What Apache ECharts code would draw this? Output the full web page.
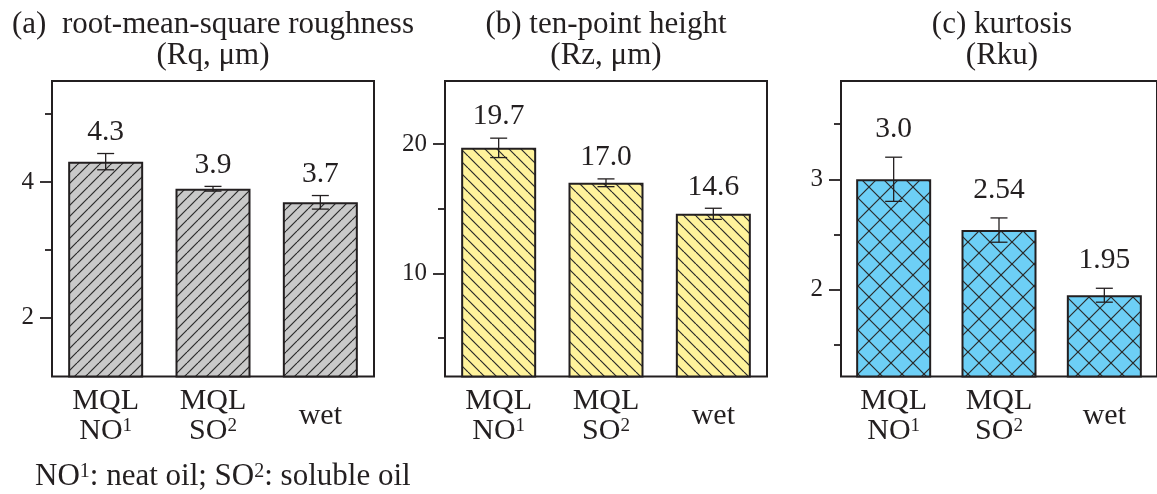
<!DOCTYPE html>
<html>
<head>
<meta charset="utf-8">
<script src="https://cdn.jsdelivr.net/npm/echarts@6/dist/echarts.min.js"></script>
<style>
html,body{margin:0;padding:0;background:#fff;}
#chart{width:1157px;height:494px;}
</style>
</head>
<body>
<div id="chart"></div>
<script>
// ---- data ----
const categories = ['MQL\nNO¹', 'MQL\nSO²', 'wet'];

const rqMean = [4.3, 3.9, 3.7];
const rqErr = [0.12, 0.035, 0.1];
const rqLabels = ['4.3', '3.9', '3.7'];
const rqTicks = [2, 4];
const rqMinorTicks = [3, 5];

const rzMean = [19.7, 17.0, 14.6];
const rzErr = [0.75, 0.3, 0.43];
const rzLabels = ['19.7', '17.0', '14.6'];
const rzTicks = [10, 20];
const rzMinorTicks = [5, 15];

const rkuMean = [3.0, 2.54, 1.95];
const rkuErr = [0.2, 0.11, 0.063];
const rkuLabels = ['3.0', '2.54', '1.95'];
const rkuTicks = [2, 3];
const rkuMinorTicks = [1.5, 2.5, 3.5];

const titleLines = [
  ['(a)  root-mean-square roughness', '(Rq, μm)'],
  ['(b) ten-point height', '(Rz, μm)'],
  ['(c) kurtosis', '(Rku)']
];
const footnote = 'NO¹: neat oil; SO²: soluble oil';

// ---- style ----
const INK = '#231f20';
const FONT = '"Liberation Serif", "Times New Roman", serif';

function toRich(s) {
  return s.replace(/¹/g, '{sup|1}').replace(/²/g, '{sup|2}');
}

function makePattern(bg, kind, s) {
  const c = document.createElement('canvas');
  c.width = s; c.height = s;
  const g = c.getContext('2d');
  g.fillStyle = bg; g.fillRect(0, 0, s, s);
  g.strokeStyle = '#2a2a2a'; g.lineWidth = 1.2;
  for (const k of [-s, 0, s]) {
    if (kind === 'fwd' || kind === 'cross') {
      g.beginPath(); g.moveTo(k, s); g.lineTo(k + s, 0); g.stroke();
    }
    if (kind === 'back' || kind === 'cross') {
      g.beginPath(); g.moveTo(k, 0); g.lineTo(k + s, s); g.stroke();
    }
  }
  return { image: c, repeat: 'repeat' };
}

const panels = [
  { mean: rqMean, err: rqErr, labels: rqLabels, ticks: rqTicks, minor: rqMinorTicks,
    min: 1.13, max: 5.49, left: 52, fill: makePattern('#c9c9c9', 'fwd', 11), gap: 21.5 },
  { mean: rzMean, err: rzErr, labels: rzLabels, ticks: rzTicks, minor: rzMinorTicks,
    min: 2.02, max: 24.87, left: 445, fill: makePattern('#fff39c', 'back', 12), gap: 21.5 },
  { mean: rkuMean, err: rkuErr, labels: rkuLabels, ticks: rkuTicks, minor: rkuMinorTicks,
    min: 1.214, max: 3.89, left: 841, fill: makePattern('#6dcff6', 'cross', 22), gap: 27.8 }
];

const PLOT_W = 322, TOP = 81, BOTTOM_Y = 376.5;
const SUP = { fontSize: 19, lineHeight: 19, verticalAlign: 'top', fontFamily: FONT, color: INK };

const grid = [], xAxis = [], yAxis = [], series = [], graphic = [];

panels.forEach((p, i) => {
  grid.push({ left: p.left, top: TOP, width: PLOT_W, height: BOTTOM_Y - TOP,
    show: true, borderColor: INK, borderWidth: 2, backgroundColor: 'transparent' });
  xAxis.push({ type: 'category', gridIndex: i, data: categories,
    axisLine: { show: false }, axisTick: { show: false }, splitLine: { show: false },
    axisLabel: { color: INK, fontFamily: FONT, fontSize: 30, lineHeight: 30,
      margin: 40, verticalAlign: 'middle', interval: 0,
      formatter: v => toRich(v), rich: { sup: SUP } } });
  yAxis.push({ type: 'value', gridIndex: i, position: 'left', min: p.min, max: p.max,
    axisLine: { show: false }, splitLine: { show: false },
    axisTick: { show: true, length: 12, customValues: p.ticks, lineStyle: { color: INK, width: 1.8 } },
    axisLabel: { show: true, customValues: p.ticks, color: INK, fontFamily: FONT, fontSize: 25, margin: 18 } });
  yAxis.push({ type: 'value', gridIndex: i, position: 'left', offset: 0, min: p.min, max: p.max,
    axisLine: { show: false }, splitLine: { show: false },
    axisTick: { show: true, length: 7, customValues: p.minor, lineStyle: { color: INK, width: 1.8 } },
    axisLabel: { show: false } });

  series.push({ type: 'bar', xAxisIndex: i, yAxisIndex: 2 * i, data: p.mean,
    barWidth: 75, silent: true,
    itemStyle: { color: p.fill, borderColor: INK, borderWidth: 2 } });

  const labels = p.labels, gap = p.gap;
  series.push({ type: 'custom', xAxisIndex: i, yAxisIndex: 2 * i, silent: true, z: 5,
    data: p.mean.map((m, j) => [j, m - p.err[j], m + p.err[j]]),
    renderItem: function (params, api) {
      const x = api.value(0);
      const hi = api.coord([x, api.value(2)]);
      const lo = api.coord([x, api.value(1)]);
      const half = 8.5;
      const st = { stroke: INK, lineWidth: 1.3 };
      return { type: 'group', children: [
        { type: 'line', shape: { x1: hi[0], y1: hi[1], x2: lo[0], y2: lo[1] }, style: st },
        { type: 'line', shape: { x1: hi[0] - half, y1: hi[1], x2: hi[0] + half, y2: hi[1] }, style: st },
        { type: 'line', shape: { x1: lo[0] - half, y1: lo[1], x2: lo[0] + half, y2: lo[1] }, style: st },
        { type: 'text', x: hi[0], y: hi[1] - gap, style: { text: labels[params.dataIndex],
          fill: INK, fontFamily: FONT, fontSize: 29.5, align: 'center', verticalAlign: 'middle' } }
      ] };
    } });

  const cx = p.left + PLOT_W / 2;
  graphic.push({ type: 'text', x: cx, y: 25, style: { text: titleLines[i][0], fill: INK,
    fontFamily: FONT, fontSize: 31, align: 'center', verticalAlign: 'middle' } });
  graphic.push({ type: 'text', x: cx, y: 56, style: { text: titleLines[i][1], fill: INK,
    fontFamily: FONT, fontSize: 31, align: 'center', verticalAlign: 'middle' } });
});

graphic.push({ type: 'text', x: 35, y: 477, style: { text: toRich(footnote), fill: INK,
  fontFamily: FONT, fontSize: 31, lineHeight: 31, align: 'left', verticalAlign: 'middle',
  rich: { sup: Object.assign({}, SUP, { fill: INK, fontSize: 20, lineHeight: 20 }) } } });

const chart = echarts.init(document.getElementById('chart'), null, { renderer: 'canvas' });
chart.setOption({ animation: false, backgroundColor: '#fff', grid, xAxis, yAxis, series, graphic });
</script>
</body>
</html>
